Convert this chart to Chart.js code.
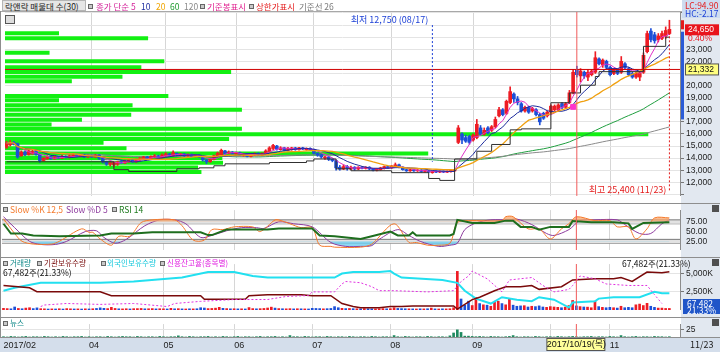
<!DOCTYPE html>
<html>
<head>
<meta charset="utf-8">
<title>락앤락 일봉</title>
<script src="https://cdn.jsdelivr.net/npm/chart.js"></script>
<style>
  body { margin: 0; background: #fff; }
  #wrap { position: relative; width: 720px; height: 352px; overflow: hidden; font-family: "Noto Sans CJK KR", sans-serif; }
  #wrap canvas { position: absolute; left: 0; }
  .abs { position: absolute; white-space: nowrap; }
  .t { position: absolute; white-space: nowrap; font-size: 8.5px; line-height: 10px; }
  .s { font-size: 7.6px; }
  .sq { position: absolute; width: 3px; height: 3px; border: 1px solid #666; background: #c8c8c8; }
  .hl { position: absolute; left: 0; width: 720px; height: 1px; background: #8e8e8e; }
  .ico { position: absolute; left: 712px; width: 7px; height: 7px; background: #505050; }
</style>
</head>
<body>
<div id="wrap">
  <div class="abs" style="left:681px;top:12px;width:39px;height:326px;background:#e2e8f0"></div>
  <div class="abs" style="left:0;top:338px;width:720px;height:14px;background:#d4deeb"></div>

  <canvas id="price" width="720" height="203" style="top:0"></canvas>
  <canvas id="stoch" width="720" height="54" style="top:203px"></canvas>
  <canvas id="vol" width="720" height="60" style="top:257px"></canvas>
  <canvas id="news" width="720" height="35" style="top:317px"></canvas>

  <div class="hl" style="top:11px;background:#a8a8a8"></div>
  <div class="hl" style="top:203px"></div>
  <div class="hl" style="top:257px"></div>
  <div class="hl" style="top:317px"></div>
  <div class="hl" style="top:337px"></div>
  <div class="abs" style="left:0;top:11px;width:1px;height:327px;background:#8e8e8e"></div>

  <!-- price panel header -->
  <div class="t" style="left:2px;top:0;width:80px;height:9px;background:#e6e6e6;border:1px solid #b5b5b5;color:#222;padding-left:2px">락앤락 매물대 수(30)</div>
  <div class="sq" style="left:88px;top:4px"></div>
  <div class="t" style="left:96px;top:1px;color:#d4249a">종가 단순 5</div>
  <div class="t" style="left:141px;top:1px;color:#1f2fa0">10</div>
  <div class="t" style="left:156px;top:1px;color:#f0a500">20</div>
  <div class="t" style="left:170px;top:1px;color:#1d9a2d">60</div>
  <div class="t" style="left:184px;top:1px;color:#8a8a8a">120</div>
  <div class="sq" style="left:200px;top:4px"></div>
  <div class="t" style="left:207px;top:1px;color:#e0208f">기준봉표시</div>
  <div class="sq" style="left:249px;top:4px"></div>
  <div class="t" style="left:256px;top:1px;color:#e41b1b">상한가표시</div>
  <div class="t" style="left:299px;top:1px;color:#7a7a7a">기준선 26</div>
  <div class="abs" style="left:5px;top:15px;width:8px;height:7px;border:1px solid #555;background:#ddd"></div>
  <div class="abs" style="left:682px;top:0;width:38px;height:18px;background:#cddcf0"></div>
  <div class="t" style="left:685px;top:0;color:#e41b1b">LC:94.90</div>
  <div class="t" style="left:685px;top:8px;color:#1b3fd6">HC:-2.17</div>

  <!-- stochastic header -->
  <div class="sq" style="left:3px;top:207px"></div>
  <div class="t" style="left:10px;top:204px;color:#f47a2c">Slow %K 12,5</div>
  <div class="t" style="left:66px;top:204px;color:#8e3b9e">Slow %D 5</div>
  <div class="sq" style="left:112px;top:207px"></div>
  <div class="t" style="left:119px;top:204px;color:#1e7a1e">RSI 14</div>
  <div class="ico" style="top:205px"></div>

  <!-- volume header -->
  <div class="sq" style="left:3px;top:261px"></div>
  <div class="t s" style="left:10px;top:258px;color:#138a8a">거래량</div>
  <div class="sq" style="left:37px;top:261px"></div>
  <div class="t s" style="left:44px;top:258px;color:#7a0f0f">기관보유수량</div>
  <div class="sq" style="left:101px;top:261px"></div>
  <div class="t s" style="left:107px;top:258px;color:#18c8dc">외국인보유수량</div>
  <div class="sq" style="left:160px;top:261px"></div>
  <div class="t s" style="left:167px;top:258px;color:#e020e0">신용잔고율(종목별)</div>
  <div class="t" style="left:3px;top:267px;color:#111">67,482주(21.33%)</div>
  <div class="t" style="left:622px;top:258px;color:#111">67,482주(21.33%)</div>
  <div class="abs" style="left:683px;top:299px;width:37px;height:15px;background:#1f55c8"></div>
  <div class="t" style="left:687px;top:298px;color:#fff">67,482</div>
  <div class="t" style="left:687px;top:305px;color:#fff">21.33%</div>
  <div class="ico" style="top:259px"></div>

  <!-- news header -->
  <div class="sq" style="left:3px;top:321px"></div>
  <div class="t s" style="left:10px;top:318px;color:#138a8a">뉴스</div>
  <div class="ico" style="top:319px"></div>
  <div class="t" style="left:690px;top:340px;color:#222;font-size:9px">11/23</div>
</div>

<script>
// ---- data (daily, 2017-02-28 .. 2017-11-23) ----
const opens = [
  14900,15100,15300,15200,14200,14500,14300,14400,14550,14300,
  13800,13950,14100,13950,14100,14000,14150,14050,14150,14250,
  14150,14250,14100,14200,14100,14250,14000,13700,13500,13450,
  13500,13700,13600,13700,13850,13700,13850,13950,14100,13950,
  14100,14200,14050,14200,14350,14200,14400,14250,14350,14200,
  14300,14150,14250,14100,13850,13700,13900,14200,14300,14600,
  14400,14500,14350,14450,14250,14350,14150,14250,14400,14250,
  14350,14550,14800,15000,14700,14850,14650,14700,14850,14700,
  14850,14700,14800,14700,14400,14300,14000,14100,13900,13800,
  13250,13100,13300,13100,13250,13100,13250,13150,13250,13100,
  13000,13050,13150,13300,13200,13300,13450,13250,13050,12950,
  13050,12950,13000,12900,12950,12800,12900,12850,12900,12850,
  12900,12950,15300,16000,15700,15800,15500,15700,16500,16000,
  16500,16300,16600,17500,18000,17700,18600,19300,18900,18500,
  17900,18200,17900,18000,17600,17700,17500,17800,18000,18000,
  18500,18200,18600,19400,21300,20800,21100,20700,20900,21100,
  22200,21700,22000,21500,21000,21300,21100,21800,21400,21000,
  20700,20700,21100,22800,24500,24200,23800,23900,24100,24300
];
const highs = [
  15400,15450,15400,15250,14600,14600,14700,14650,14600,14350,
  14050,14200,14150,14200,14150,14250,14200,14300,14350,14300,
  14300,14300,14250,14250,14300,14300,14050,13750,13700,13700,
  13750,13800,13850,13900,13900,13950,14050,14150,14150,14200,
  14300,14250,14350,14450,14400,14600,14450,14400,14400,14350,
  14350,14300,14300,14150,13900,13950,14250,14500,14750,14650,
  14600,14550,14500,14500,14400,14400,14350,14450,14450,14450,
  14700,14950,15150,15050,14950,14900,14900,14900,14900,14900,
  14900,14850,14850,14750,14450,14350,14150,14150,13950,13850,
  13400,13450,13400,13350,13300,13300,13300,13300,13300,13150,
  13150,13250,13350,13350,13400,13600,13500,13300,13100,13100,
  13100,13050,13050,13000,13000,12950,12950,12950,12950,12950,
  13000,13050,16700,16100,15900,15900,16000,17200,16700,16500,
  16600,16700,17400,18200,18100,18800,19900,19400,19100,18600,
  18300,18300,18200,18100,17700,17800,17900,18400,18400,18500,
  18600,18600,19600,21300,21600,21400,21200,21300,21300,22800,
  22300,22200,22100,21600,21400,21400,22400,21900,21500,21100,
  21100,21100,22700,24500,24700,24400,24300,24500,24850,25400
];
const lows = [
  14800,15000,15100,14000,14150,14200,14250,14300,14250,13650,
  13750,13900,13900,13900,13950,13950,14000,14000,14100,14100,
  14100,14050,14050,14050,14050,13900,13600,13400,13350,13300,
  13400,13550,13550,13650,13650,13650,13800,13900,13900,13900,
  14050,14000,14000,14150,14150,14150,14200,14200,14150,14150,
  14100,14100,14050,13750,13550,13650,13850,14150,14250,14300,
  14350,14300,14300,14200,14150,14100,14100,14200,14200,14200,
  14300,14500,14700,14650,14650,14600,14600,14650,14650,14650,
  14700,14650,14650,14350,14150,14000,13900,13800,13700,13000,
  13000,13050,13000,13050,13000,13050,13100,13100,13050,12950,
  12950,13000,13100,13150,13150,13250,13200,13000,12900,12900,
  12900,12900,12850,12850,12800,12750,12800,12800,12800,12800,
  12850,12900,15200,15200,15300,15150,15400,15600,15900,15900,
  16000,16200,16500,17400,17500,17600,18500,18600,18400,17800,
  17800,17700,17800,17500,16750,17200,17400,17700,17900,17900,
  18100,18100,18500,19300,20700,20300,20600,20400,20800,21000,
  21700,21500,21400,20800,20900,20900,21000,21400,20800,20600,
  20600,20400,21000,22700,23600,23500,23600,23800,23900,24200
];
const closes = [
  15250,15300,15150,14100,14500,14300,14600,14550,14300,13800,
  14000,14100,13950,14100,14000,14150,14050,14200,14250,14150,
  14250,14100,14200,14100,14250,14000,13700,13500,13600,13650,
  13700,13600,13750,13850,13700,13900,14000,14100,13950,14150,
  14200,14050,14250,14350,14200,14450,14250,14350,14200,14300,
  14150,14250,14100,13850,13700,13900,14200,14400,14650,14400,
  14500,14350,14450,14250,14350,14150,14300,14400,14250,14400,
  14600,14850,15050,14750,14850,14650,14800,14850,14700,14850,
  14750,14800,14700,14400,14250,14100,14100,13900,13800,13200,
  13100,13300,13150,13250,13100,13250,13150,13250,13100,13000,
  13100,13200,13300,13200,13350,13450,13250,13050,12950,13050,
  12950,13000,12900,12950,12850,12900,12850,12900,12850,12900,
  12950,13000,16500,15500,15400,15300,15900,16800,16000,16300,
  16100,16600,17200,18000,17600,18700,19500,18900,18600,17900,
  18200,17800,18100,17600,17000,17300,17800,18300,18300,18400,
  18200,18500,19400,21100,20900,21200,20800,21100,21200,22300,
  21800,22100,21500,20900,21300,21000,22000,21500,20900,20700,
  21000,21000,22500,24300,23800,23700,24100,24300,24550,24650
];
// volume in thousand shares
const volume = [
  220,180,150,400,200,160,250,300,180,280,
  170,150,120,140,130,160,120,180,150,130,
  140,120,150,130,160,200,280,220,180,350,
  200,150,140,160,130,170,180,200,150,160,
  180,140,160,150,130,220,150,170,140,130,
  150,140,160,300,260,180,200,240,350,220,
  180,150,160,140,150,130,320,180,150,170,
  200,260,380,250,180,160,150,170,140,160,
  150,140,130,220,200,180,150,170,200,450,
  300,220,180,200,170,160,150,180,160,150,
  140,160,180,150,170,300,200,180,160,150,
  140,130,150,140,160,250,140,130,150,140,
  160,300,5300,1500,650,1200,600,1700,870,700,
  650,500,1050,1200,870,700,1500,650,500,550,
  580,400,500,450,550,400,350,450,400,350,
  300,380,600,1300,550,450,400,380,300,1200,
  450,350,300,350,300,250,500,300,350,300,
  700,800,600,900,500,350,250,250,200,200
];
const news = [
  1,0,2,1,0,1,2,0,1,1, 0,2,1,0,1,0,2,1,0,1, 1,2,0,1,0,1,1,0,2,1,
  0,1,2,1,1,0,2,1,0,1, 1,0,2,1,0,1,1,4,1,0, 2,1,0,1,1,2,0,1,0,2,
  1,0,1,2,0,1,1,0,1,2, 0,1,1,2,0,1,0,5,1,1, 0,2,1,0,1,1,0,2,1,0,
  1,1,0,2,1,0,1,1,0,2, 1,0,1,1,0,5,1,0,2,1, 0,1,1,0,2,1,0,1,1,0,
  4,14,25,16,3,3,2,1,2,1, 0,2,1,1,0,1,2,5,1,0, 1,1,0,2,1,0,1,1,0,2,
  1,0,1,2,1,0,1,1,2,0, 1,1,0,2,1,0,5,1,0,1, 2,0,1,1,0,2,1,1,0,1
];
// 기준선 26 ([day, price])
const baseLine = [[0,13700],[29,13050],[33,12900],[46,13120],[52,13200],[56,13370],[59,13530],[71,13640],
  [81,13770],[83,13930],[89,13120],[93,12960],[104,12800],[114,12320],[117,12160],[121,13930],[127,14570],
  [131,15130],[136,16340],[139,16420],[147,18580],[152,19390],[155,20030],[159,20750],[160,21150],
  [172,23240],[178,24000],[179,24000]];
// 매물대 (price level, volume K)
const profLevels = [24320,23920,22720,22000,21520,21120,20720,20360,19140,18780,18380,18000,17580,
  17180,16780,16420,15980,15580,15280,14820,14380,14020,13620,13220,12860];
const profVolume = [800,2120,660,2360,2020,3350,1740,990,2420,800,1890,3510,1870,
  1140,690,3510,9530,3320,1460,1800,6270,3220,3230,2860,2910];
// oscillators [day, value]
const slowK = [[0,83],[3,45],[5,25],[8,18],[13,18],[15,25],[21,57],[23,48],[24,48],[26,31],[29,15],[31,38],
  [34,38],[37,73],[40,80],[46,80],[48,65],[51,28],[54,28],[56,55],[59,55],[62,62],[67,62],[69,50],[73,80],
  [74,80],[77,70],[80,60],[83,60],[85,15],[88,12],[89,10],[96,10],[99,18],[105,70],[109,22],[111,22],
  [114,15],[117,15],[120,20],[122,73],[125,78],[134,78],[135,88],[137,88],[141,57],[144,57],[147,31],
  [150,57],[152,70],[154,88],[159,78],[163,78],[165,62],[168,62],[170,31],[173,57],[175,85],[179,85]];
const slowD = [[0,88],[3,60],[7,25],[10,17],[14,17],[17,25],[22,50],[25,52],[27,35],[30,20],[33,30],[38,65],
  [42,80],[46,80],[49,70],[53,35],[56,40],[60,52],[64,60],[68,60],[70,58],[74,75],[78,70],[83,62],[88,22],
  [92,12],[96,12],[99,14],[101,30],[106,55],[109,40],[112,25],[117,12],[120,15],[122,20],[124,55],[127,72],
  [131,80],[136,80],[138,82],[142,68],[146,45],[148,40],[152,55],[155,78],[159,80],[165,80],[167,68],
  [171,45],[174,45],[177,70],[179,80]];
const rsi = [[0,70],[2,45],[5,45],[8,40],[15,38],[26,40],[29,45],[35,45],[40,48],[53,48],[55,41],[56,41],
  [60,55],[71,55],[74,58],[83,58],[85,40],[89,38],[96,31],[99,38],[104,50],[106,40],[109,40],[110,48],
  [111,40],[120,40],[121,44],[122,80],[126,72],[132,72],[135,78],[137,78],[139,62],[142,62],[144,55],
  [147,62],[152,62],[153,77],[158,74],[164,74],[168,71],[169,57],[172,72],[179,74]];
// holdings [day, value]
const instHold = [[0,57600],[7,55900],[9,53100],[26,53100],[29,50200],[53,50200],[54,47600],[65,47600],
  [66,50200],[71,51000],[80,51000],[83,50200],[88,50200],[91,44600],[94,42400],[96,41500],[101,41500],
  [104,42400],[107,42400],[110,42800],[121,42800],[122,40600],[126,47400],[128,49100],[132,53800],
  [135,56700],[139,56700],[142,57600],[144,54800],[150,56700],[153,61600],[159,62400],[164,62400],
  [166,63300],[169,60500],[173,67300],[177,66700],[179,67482]];
const forHold = [[0,25100],[3,29000],[10,35500],[26,35500],[35,37200],[48,42400],[55,49700],[62,49700],
  [67,44500],[71,42400],[89,42400],[91,47600],[94,49700],[101,49700],[104,51000],[105,47600],[107,42400],
  [118,39300],[122,35500],[124,25100],[127,14800],[131,8300],[134,16600],[138,13400],[142,11400],
  [144,16600],[148,13400],[152,3100],[153,9600],[159,11400],[160,14800],[164,16600],[171,16600],
  [175,23800],[177,21700],[179,21700]];
const creditRatio = [[10,0.11],[11,0.16],[17,0.21],[26,0.18],[35,0.21],[44,0.11],[46,0.21],[53,0.28],
  [62,0.34],[71,0.34],[76,0.44],[82,0.47],[83,0.59],[89,0.59],[91,0.85],[92,0.93],[96,0.89],[99,0.76],
  [101,0.63],[105,0.63],[114,0.59],[121,0.63],[123,0.93],[125,1.11],[126,1.27],[130,1.02],[134,0.59],
  [136,0.98],[142,1.06],[145,0.80],[148,0.59],[152,0.67],[153,0.80],[155,1.11],[159,1.02],[162,0.85],
  [168,0.80],[173,0.80],[175,0.50],[177,0.21]];
// axis ticks / labels
const monthTicks = [0, 23, 43, 62, 83, 104, 126, 147, 163];
const monthLabels = ['2017/02', '04', '05', '06', '07', '08', '09', '', '11'];
const priceTicks = [11000,12000,13000,14000,15000,16000,17000,18000,19000,20000,21000,22000,23000,24000,25000,26000];
const stochTicks = [25, 50, 75];
const volTicks = [2500, 5000];
const newsTicks = [25];

const LOW_IDX = 115, LOW_PRICE = 12750, LOW_DATE = '08/17';
const HIGH_IDX = 179, HIGH_PRICE = 25400, HIGH_DATE = '11/23';
const LAST_CLOSE = 24650, CHANGE_PCT = '0.40%';
const REF_PRICE = 21332;
const RANGE_TOP = 24450, RANGE_BOTTOM = 17200;
const CROSS_IDX = 154, CROSS_DATE = '2017/10/19(목)';
const MARK_IDX = 153, MARK_PRICE = 18240;

// ---- layout constants ----
const X_MIN = -0.4, X_MAX = 181.86;
const PRICE_MIN = 10880, PRICE_MAX = 26080;
const UP = '#ee1c24', DOWN = '#1c4fd8';

Chart.defaults.font.family = '"Liberation Sans", "Noto Sans CJK KR", sans-serif';
Chart.defaults.font.size = 9;

const fmt = v => v.toLocaleString('en-US');
const pts = a => a.map(([x, y]) => ({ x, y }));
const vline = (xv, y0, y1) => [{ x: xv, y: y0 }, { x: xv, y: y1 }];
const hline = yv => [{ x: X_MIN, y: yv }, { x: X_MAX, y: yv }];
const lineDs = (data, color, extra) => Object.assign({
  type: 'line', data, borderColor: color, borderWidth: 1, pointRadius: 0, fill: false, tension: 0
}, extra);
const candleColors = closes.map((c, i) => c >= opens[i] ? UP : DOWN);

// moving averages of the closes
function sma(n) {
  return closes.map((_, i) => {
    const win = closes.slice(Math.max(0, i - n + 1), i + 1);
    return { x: i, y: win.reduce((s, v) => s + v, 0) / win.length };
  });
}

function baseX(labels) {
  return {
    type: 'linear', min: X_MIN, max: X_MAX, offset: false,
    afterBuildTicks: a => { a.ticks = monthTicks.map(v => ({ value: v })); },
    grid: { color: c => (c.tick && c.tick.value === 0) ? 'rgba(0,0,0,0)' : '#d6d6d6', drawTicks: false, offset: false },
    border: { display: false },
    ticks: labels
      ? { autoSkip: false, maxRotation: 0, align: 'start', padding: 3, color: '#222', font: { size: 9 },
          callback: (v, i) => monthLabels[i] }
      : { display: false },
    afterFit: a => { a.height = labels ? 15 : 0; }
  };
}
function baseY(ticks, cb, extra) {
  return Object.assign({
    position: 'right',
    afterBuildTicks: a => { a.ticks = ticks.map(v => ({ value: v })); },
    afterFit: a => { a.width = 40; },
    border: { color: '#8c8c8c' },
    grid: { color: '#e4e4e4', tickLength: 4, tickColor: '#777' },
    ticks: { autoSkip: false, padding: 2, color: '#222', font: { size: 8.5 }, callback: cb }
  }, extra);
}
const common = {
  responsive: false, animation: false, events: [],
  plugins: { legend: { display: false }, tooltip: { enabled: false } }
};

// ---- price panel ----
const priceNotes = {
  id: 'priceNotes',
  afterDraw(chart) {
    const { ctx, chartArea: a, scales: { x, y } } = chart;
    ctx.save();
    ctx.font = '9px "Noto Sans CJK KR"';
    ctx.textBaseline = 'middle';
    ctx.textAlign = 'right';
    ctx.fillStyle = '#1b3fd6';
    ctx.fillText('최저 ' + fmt(LOW_PRICE) + ' (' + LOW_DATE + ')', x.getPixelForValue(LOW_IDX) - 4, a.top + 8);
    ctx.fillStyle = '#e41b1b';
    ctx.fillText('최고 ' + fmt(HIGH_PRICE) + ' (' + HIGH_DATE + ')', x.getPixelForValue(HIGH_IDX) - 3, a.bottom - 6);

    const yHi = y.getPixelForValue(HIGH_PRICE), yLast = y.getPixelForValue(LAST_CLOSE);
    ctx.fillStyle = '#e41b1b';
    ctx.fillRect(a.right + 1, yHi, 3, yLast - yHi);
    ctx.fillStyle = '#2a5bd7';
    const yT = y.getPixelForValue(RANGE_TOP), yB = y.getPixelForValue(RANGE_BOTTOM);
    ctx.fillRect(a.right + 1, yT, 3, yB - yT);

    ctx.textAlign = 'left';
    ctx.font = '8.5px "Liberation Sans"';
    ctx.fillStyle = '#e8141c';
    ctx.fillRect(a.right + 5, yLast - 5, 34, 11);
    ctx.fillStyle = '#fff';
    ctx.fillText(fmt(LAST_CLOSE), a.right + 8, yLast + 0.5);
    ctx.fillStyle = '#e8141c';
    ctx.fillText(CHANGE_PCT, a.right + 8, yLast + 9);

    const yRef = y.getPixelForValue(REF_PRICE);
    ctx.fillStyle = '#ffff80';
    ctx.fillRect(a.right + 5.5, yRef - 5.5, 33, 11);
    ctx.strokeStyle = '#555';
    ctx.strokeRect(a.right + 5.5, yRef - 5.5, 33, 11);
    ctx.fillStyle = '#111';
    ctx.fillText(fmt(REF_PRICE), a.right + 8, yRef + 0.5);
    ctx.restore();
  }
};

const priceSets = [];
profLevels.forEach((lv, k) => priceSets.push(lineDs([{ x: 0, y: lv }, { x: profVolume[k], y: lv }], '#12f012',
  { xAxisID: 'xProf', borderWidth: 4, borderCapStyle: 'butt', order: 20 })));
priceSets.push(lineDs(sma(120), '#8a8a8a', { order: 6 }));
priceSets.push(lineDs(sma(60), '#1e9e3e', { order: 6 }));
priceSets.push({ type: 'bar', data: closes.map((c, i) => ({ x: i, y: [lows[i], highs[i]] })),
  backgroundColor: candleColors, barThickness: 1, grouped: false, order: 5 });
priceSets.push({ type: 'bar', data: closes.map((c, i) => ({ x: i, y: [opens[i], c] })),
  backgroundColor: candleColors, barThickness: 3, minBarLength: 1, grouped: false, order: 4 });
priceSets.push(lineDs(pts(baseLine), '#303030', { stepped: true, order: 3 }));
priceSets.push(lineDs(sma(20), '#f0a010', { borderWidth: 1.3, order: 3 }));
priceSets.push(lineDs(sma(10), '#1c2a9c', { order: 3 }));
priceSets.push(lineDs(sma(5), '#e030c8', { order: 3 }));
priceSets.push(lineDs(hline(REF_PRICE), '#d00000', { order: 2 }));
priceSets.push(lineDs(vline(LOW_IDX, 25000, 13700), '#1b3fd6', { borderDash: [2, 2], order: 1 }));
priceSets.push(lineDs(vline(HIGH_IDX, 24400, 11300), '#e41b1b', { borderDash: [2, 2], order: 1 }));
priceSets.push(lineDs(vline(CROSS_IDX, PRICE_MIN, PRICE_MAX), '#f05a5a', { order: 1 }));
priceSets.push(lineDs([{ x: MARK_IDX, y: MARK_PRICE }], '#ff33cc',
  { showLine: false, pointRadius: 3.5, pointStyle: 'rect', pointBackgroundColor: '#ff33cc', order: 0 }));

new Chart(document.getElementById('price'), {
  type: 'line',
  data: { datasets: priceSets },
  options: Object.assign({}, common, {
    layout: { padding: { left: 2, top: 12, right: 0, bottom: 1 } },
    scales: {
      x: baseX(false),
      xProf: { type: 'linear', display: false, min: 0, max: 10000 },
      y: baseY(priceTicks, v => (v >= 12000 && v <= 23000 && Math.abs(v - REF_PRICE) > 500) ? fmt(v) : '',
        { min: PRICE_MIN, max: PRICE_MAX })
    }
  }),
  plugins: [priceNotes]
});

// ---- stochastic / RSI panel ----
new Chart(document.getElementById('stoch'), {
  type: 'line',
  data: {
    datasets: [
      lineDs(hline(80), '#7a7a7a', { fill: '+1', backgroundColor: '#e2e2e2', order: 5 }),
      lineDs(hline(70), '#7a7a7a', { order: 5 }),
      lineDs(hline(30), '#7a7a7a', { fill: '+1', backgroundColor: '#e2e2e2', order: 5 }),
      lineDs(hline(20), '#7a7a7a', { order: 5 }),
      lineDs(pts(slowK), '#f57a2c', { tension: 0.3, order: 2,
        fill: { target: { value: 75 }, above: 'rgba(250,165,105,0.75)', below: 'rgba(0,0,0,0)' } }),
      lineDs(pts(slowD), '#8e3b9e', { tension: 0.3, order: 2,
        fill: { target: { value: 25 }, above: 'rgba(0,0,0,0)', below: 'rgba(110,205,240,0.8)' } }),
      lineDs(pts(rsi), '#1e6e1e', { borderWidth: 2, order: 1 }),
      lineDs(vline(CROSS_IDX, 0, 110), '#f05a5a', { order: 0 })
    ]
  },
  options: Object.assign({}, common, {
    layout: { padding: { left: 2, top: 1, right: 0, bottom: 1 } },
    scales: {
      x: baseX(false),
      y: baseY(stochTicks, v => v.toFixed(2), { min: 3, max: 105, grid: { display: false, tickLength: 4 } })
    }
  })
});

// ---- volume / holdings panel ----
new Chart(document.getElementById('vol'), {
  type: 'line',
  data: {
    datasets: [
      { type: 'bar', data: volume.map((v, i) => ({ x: i, y: v })), backgroundColor: candleColors,
        barThickness: 2, grouped: false, order: 5 },
      lineDs(pts(instHold), '#7a0a0a', { yAxisID: 'yInst', borderWidth: 1.5, order: 2 }),
      lineDs(pts(forHold), '#22e0f0', { yAxisID: 'yFor', borderWidth: 2, order: 3 }),
      lineDs(pts(creditRatio), '#e030e0', { yAxisID: 'yCredit', borderDash: [2, 2], order: 1 }),
      lineDs(vline(CROSS_IDX, 0, 7000), '#f05a5a', { order: 0 })
    ]
  },
  options: Object.assign({}, common, {
    layout: { padding: { left: 2, top: 1, right: 0, bottom: 1 } },
    scales: {
      x: baseX(false),
      y: baseY(volTicks, v => fmt(v) + 'K', { min: 0, max: 6300 }),
      yInst: { display: false, min: 40000, max: 73000 },
      yFor: { display: false, min: 0, max: 60000 },
      yCredit: { display: false, min: 0, max: 1.5 }
    }
  })
});

// ---- news panel with date axis ----
const crossBox = {
  id: 'crossBox',
  afterDraw(chart) {
    const { ctx, chartArea: a, scales: { x } } = chart;
    const xc = x.getPixelForValue(CROSS_IDX);
    ctx.save();
    ctx.fillStyle = '#ffff99';
    ctx.fillRect(xc - 29.5, a.bottom + 1.5, 58, 12);
    ctx.strokeStyle = '#555';
    ctx.strokeRect(xc - 29.5, a.bottom + 1.5, 58, 12);
    ctx.fillStyle = '#111';
    ctx.font = '9px "Liberation Sans", "Noto Sans CJK KR"';
    ctx.textAlign = 'center';
    ctx.textBaseline = 'middle';
    ctx.fillText(CROSS_DATE, xc, a.bottom + 8);
    ctx.restore();
  }
};
new Chart(document.getElementById('news'), {
  type: 'line',
  data: {
    datasets: [
      { type: 'bar', data: news.map((v, i) => ({ x: i, y: v })), backgroundColor: '#1f8a60',
        barThickness: 2, grouped: false, order: 2 },
      lineDs(vline(CROSS_IDX, 0, 50), '#f05a5a', { order: 0 })
    ]
  },
  options: Object.assign({}, common, {
    layout: { padding: { left: 2, top: 1, right: 0, bottom: 0 } },
    scales: {
      x: baseX(true),
      y: baseY(newsTicks, v => String(v), { min: 0, max: 45 })
    }
  }),
  plugins: [crossBox]
});
</script>
</body>
</html>
